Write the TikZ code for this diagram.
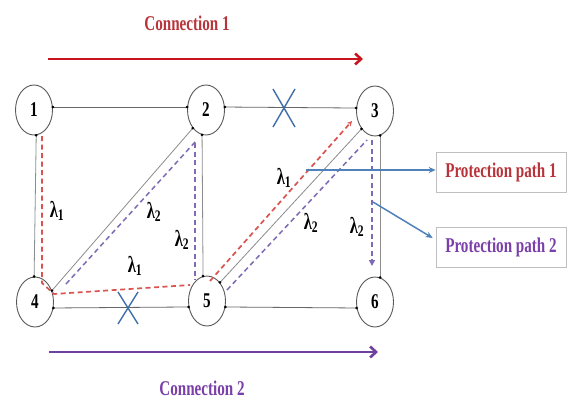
\documentclass[tikz,border=0pt]{standalone}
\usepackage{fontspec}
\setmainfont{Liberation Serif}
\newfontfamily\cond[FakeStretch=0.72]{Liberation Serif}
\usetikzlibrary{shapes.geometric,arrows.meta,calc}
\definecolor{pred}{HTML}{D9534F}
\definecolor{ppur}{HTML}{7F6BB5}
\definecolor{tred}{HTML}{B8343A}
\definecolor{tpur}{HTML}{7A3FA8}
\definecolor{cred}{HTML}{C8141E}
\definecolor{cpur}{HTML}{7040A0}
\definecolor{xblue}{HTML}{3F6FA8}
\definecolor{ablue}{HTML}{4F81BD}
\definecolor{lgray}{HTML}{8C8C8C}
\newcommand\lnkdraw[3]{\draw[#1] (#2) -- (#3); \fill[black] (#2) circle (1.5pt); \fill[black] (#3) circle (1.5pt);}
\begin{document}
\begin{tikzpicture}[x=1pt,y=-1pt,
  nd/.style={ellipse,draw=black!65,line width=0.9pt,minimum width=37pt,minimum height=50pt,inner sep=0pt,
    font=\cond\bfseries\fontsize{21}{21}\selectfont},
  link/.style={draw=lgray,line width=0.8pt},
  hlink/.style={draw=black!60,line width=0.8pt},
  rdash/.style={draw=pred,line width=1.7pt,dash pattern=on 5pt off 3.5pt},
  pdash/.style={draw=ppur,line width=1.5pt,dash pattern=on 5pt off 3.5pt},
  lam/.style={font=\cond\bfseries\fontsize{23}{23}\selectfont,inner sep=0pt},
  xmark/.style={draw=xblue,line width=1.4pt},
  barrow/.style={draw=ablue,line width=1.5pt,-{Stealth[length=7pt,width=6pt]}},
  pbox/.style={draw=black!25,line width=0.7pt,minimum width=130pt,minimum height=40pt,inner sep=0pt,
    font=\cond\bfseries\fontsize{21}{21}\selectfont},
  ctext/.style={font=\cond\bfseries\fontsize{21}{21}\selectfont,inner sep=0pt}
]
\useasboundingbox (0,0) rectangle (569,401);
\fill[white] (0,0) rectangle (569,401);

% connection arrows and titles
\node[ctext,text=tred] (c1t) at (187,23) {Connection 1};
\coordinate (c1s) at (48,59);
\coordinate (c1e) at (363,59);
\draw[cred,line width=2.6pt,-{Straight Barb[length=6pt,width=11pt]}] (c1s) -- (c1e);
\node[ctext,text=tpur] (c2t) at (202,388) {Connection 2};
\coordinate (c2s) at (49,352);
\coordinate (c2e) at (378,352);
\draw[cpur,line width=2.6pt,-{Straight Barb[length=6pt,width=11pt]}] (c2s) -- (c2e);

% nodes
\node[nd] (n1) at (34,110) {1};
\node[nd] (n2) at (206,110) {2};
\node[nd] (n3) at (375,111) {3};
\node[nd] (n4) at (35,302) {4};
\node[nd] (n5) at (207,301) {5};
\node[nd] (n6) at (375,302) {6};

% physical links
\lnkdraw{hlink}{n1.9}{n2.171}
\lnkdraw{hlink}{n2.9}{n3.171}
\lnkdraw{hlink}{n4.-18}{n5.198}
\lnkdraw{hlink}{n5.-18}{n6.198}
\lnkdraw{link}{n1.-85}{n4.92}
\lnkdraw{link}{n2.-99}{n5.99}
\lnkdraw{link}{n3.-78}{n6.78}
\lnkdraw{link}{n4.34}{n2.-126}
\lnkdraw{link}{n5.55}{n3.-127}

% protection path 1 (red)
\coordinate (r1) at (42,136);
\coordinate (r2) at (42,283);
\coordinate (r3) at (54,294);
\coordinate (r4) at (190,285);
\coordinate (r5) at (210,281);
\coordinate (r6) at (352,121);
\draw[rdash] (r1) -- (r2) -- (r3) -- (r4);
\draw[rdash,-{Stealth[length=5pt,width=5pt]}] (r5) -- (r6);

% protection path 2 (purple)
\coordinate (p1) at (66,284);
\coordinate (p2) at (196,141);
\coordinate (p3) at (195,143);
\coordinate (p4) at (195,280);
\coordinate (p5) at (227,290);
\coordinate (p6) at (367,140);
\coordinate (p7) at (372,140);
\coordinate (p8) at (372,266);
\draw[pdash] (p1) -- (p2);
\draw[pdash] (p3) -- (p4);
\draw[pdash] (p5) -- (p6);
\draw[pdash,-{Triangle[length=6pt,width=6pt]}] (p7) -- (p8);

% wavelength labels
\node[lam] (l1) at (57,211) {λ\textsubscript{1}};
\node[lam] (l2) at (154,212) {λ\textsubscript{2}};
\node[lam] (l3) at (182,240) {λ\textsubscript{2}};
\node[lam] (l4) at (135,266) {λ\textsubscript{1}};
\node[lam] (l5) at (284,178) {λ\textsubscript{1}};
\node[lam] (l6) at (311,223) {λ\textsubscript{2}};
\node[lam] (l7) at (357,227) {λ\textsubscript{2}};

% failure marks
\coordinate (x1) at (284,108);
\draw[xmark] ($(x1)+(-11,-19)$) -- ($(x1)+(11,19)$);
\draw[xmark] ($(x1)+(11,-19)$) -- ($(x1)+(-11,19)$);
\coordinate (x2) at (128,308);
\draw[xmark] ($(x2)+(-10,-16)$) -- ($(x2)+(10,16)$);
\draw[xmark] ($(x2)+(10,-16)$) -- ($(x2)+(-10,16)$);

% legend boxes
\node[pbox,text=tred] (b1) at (501,172) {Protection path 1};
\node[pbox,text=tpur] (b2) at (501,247) {Protection path 2};
\coordinate (a1) at (306,170);
\coordinate (a2) at (373,202);
\draw[barrow] (a1) -- (b1.west |- a1);
\draw[barrow] (a2) -- ($(b2.west)+(-3,-9)$);
\end{tikzpicture}
\end{document}
